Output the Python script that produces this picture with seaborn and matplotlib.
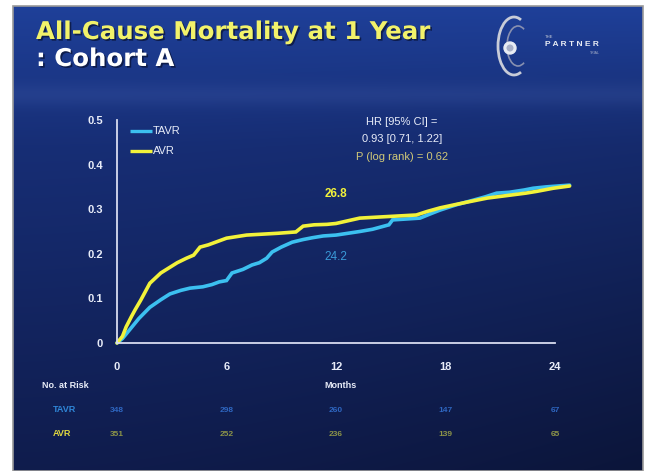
import numpy as np
import pandas as pd
import matplotlib
matplotlib.use("Agg")
import matplotlib.pyplot as plt
import matplotlib.patheffects as pe
import seaborn as sns
from matplotlib.patches import Rectangle, Circle, Arc

# Kaplan-Meier estimates of all-cause mortality (months, cumulative event rate)
tavr_months = [0, 0.3, 0.7, 1.2, 1.8, 2.4, 2.9, 3.5, 4.0, 4.7, 5.2, 5.6, 6.0, 6.3, 6.9,
               7.4, 7.8, 8.2, 8.5, 9.0, 9.6, 10.2, 10.7, 11.3, 12.0, 13.3, 14.0, 14.9,
               15.1, 16.6, 17.2, 17.7, 18.6, 19.5, 20.2, 20.8, 21.5, 22.3, 22.8, 23.5, 24.8]
tavr_rate = [0, 0.01, 0.03, 0.055, 0.08, 0.097, 0.11, 0.118, 0.123, 0.126, 0.131, 0.137,
             0.14, 0.157, 0.165, 0.175, 0.18, 0.19, 0.204, 0.215, 0.226, 0.232, 0.236,
             0.24, 0.242, 0.25, 0.255, 0.265, 0.276, 0.28, 0.29, 0.298, 0.31, 0.32, 0.328,
             0.336, 0.338, 0.343, 0.347, 0.35, 0.354]

avr_months = [0, 0.3, 0.5, 0.8, 1.0, 1.3, 1.8, 2.4, 3.3, 3.8, 4.2, 4.55, 5.0, 5.4, 6.0,
              7.1, 8.8, 9.8, 10.2, 10.8, 11.5, 12.0, 13.3, 14.6, 16.4, 17.0, 17.7, 18.5,
              19.2, 20.3, 22.4, 23.0, 23.9, 24.8]
avr_rate = [0, 0.015, 0.036, 0.06, 0.075, 0.096, 0.134, 0.157, 0.18, 0.19, 0.197, 0.215,
            0.22, 0.226, 0.235, 0.242, 0.246, 0.249, 0.262, 0.265, 0.266, 0.268, 0.28,
            0.283, 0.287, 0.295, 0.303, 0.31, 0.316, 0.325, 0.336, 0.34, 0.347, 0.352]

x_ticks = [0, 6, 12, 18, 24]
y_ticks = [0, 0.1, 0.2, 0.3, 0.4, 0.5]
y_tick_labels = ["0", "0.1", "0.2", "0.3", "0.4", "0.5"]

# number at risk at each x tick
risk_groups = ["TAVR", "AVR"]
risk_tavr = [348, 298, 260, 147, 67]
risk_avr = [351, 252, 236, 139, 65]

# one-year rates printed on the curves
label_month = 12
tavr_one_year = 24.2
avr_one_year = 26.8

TAVR_C = "#3cc0f0"
AVR_C = "#f2f23a"

df = pd.concat([
    pd.DataFrame({"Months": tavr_months, "Rate": tavr_rate, "Group": "TAVR"}),
    pd.DataFrame({"Months": avr_months, "Rate": avr_rate, "Group": "AVR"}),
])

sns.set_theme(style="dark")
plt.rcParams["font.family"] = ["Liberation Sans", "DejaVu Sans"]

W, H = 653, 471
fig = plt.figure(figsize=(W / 100, H / 100), dpi=100)
fig.patch.set_facecolor("white")

# slide background with blue gradient
bg = fig.add_axes([13 / W, 0, (643 - 13) / W, (471 - 6) / H])
bg.set_axis_off()
yy, xx = np.mgrid[0:1:200j, 0:1:300j]
top = np.array([0.12, 0.25, 0.60])
mid = np.array([0.09, 0.18, 0.46])
bot = np.array([0.06, 0.11, 0.30])
t = yy[..., None]
col = np.where(t < 0.3, top + (mid - top) * (t / 0.3), mid + (bot - mid) * ((t - 0.3) / 0.7))
col = col * (1 - 0.25 * (xx[..., None] ** 1.5) * t)
band = np.exp(-((yy - 0.19) / 0.025) ** 2)[..., None] * 0.04
col = np.clip(col + band, 0, 1)
bg.imshow(col, aspect="auto", extent=[0, 1, 1, 0], interpolation="bilinear")
bg.set_xlim(0, 1)
bg.set_ylim(1, 0)
bg.add_patch(Rectangle((0, 0), 1, 1, fill=False, edgecolor="#9a9a9a", lw=1.2,
                       transform=bg.transAxes, clip_on=False))

# main plot
ax = fig.add_axes([117 / W, (H - 343) / H, (555 - 117) / W, (343 - 120) / H])
ax.set_facecolor("none")
sns.lineplot(data=df, x="Months", y="Rate", hue="Group", hue_order=["TAVR", "AVR"],
             palette={"TAVR": TAVR_C, "AVR": AVR_C}, linewidth=2.6, estimator=None,
             sort=False, ax=ax, legend=False)
for ln in ax.lines:
    ln.set_clip_on(False)
    ln.set_solid_joinstyle("miter")
ax.set_xlim(0, 24)
ax.set_ylim(0, 0.5)
ax.set_xticks(x_ticks)
ax.set_xticklabels([str(v) for v in x_ticks])
ax.set_yticks(y_ticks)
ax.set_yticklabels(y_tick_labels)
ax.grid(False)
for s in ["top", "right"]:
    ax.spines[s].set_visible(False)
for s in ["left", "bottom"]:
    ax.spines[s].set_color("#d8dcf0")
    ax.spines[s].set_linewidth(1.3)
ax.tick_params(colors="#d8dcf0", labelcolor="#e8ecf8", labelsize=8, length=4, width=1.2,
               direction="out", pad=6)
ax.tick_params(axis="x", pad=10)
ax.set_xlabel("")
ax.set_ylabel("")
for lab in ax.get_xticklabels() + ax.get_yticklabels():
    lab.set_fontweight("bold")

# legend
for yv, name, c in [(0.476, "TAVR", TAVR_C), (0.431, "AVR", AVR_C)]:
    ax.plot([0.7, 1.9], [yv, yv], color=c, lw=2.4, solid_capstyle="butt")
    ax.text(1.95, yv, name, color="#e8ecf8", fontsize=8, va="center", ha="left")

# statistics
ax.text(15.6, 0.495, "HR [95% CI] =", color="#e8ecf8", fontsize=8, ha="center", va="center")
ax.text(15.6, 0.458, "0.93 [0.71, 1.22]", color="#e8ecf8", fontsize=8, ha="center", va="center")
ax.text(15.6, 0.418, "P (log rank) = 0.62", color="#d0c878", fontsize=8, ha="center", va="center")

ax.text(label_month, avr_one_year / 100 + 0.065, f"{avr_one_year}", color=AVR_C, fontsize=8.5,
        fontweight="bold", ha="center", va="center")
ax.text(label_month, tavr_one_year / 100 - 0.05, f"{tavr_one_year}", color="#3a9ad8",
        fontsize=8.5, ha="center", va="center")

# titles
shadow = [pe.SimplePatchShadow(offset=(1.2, -1.2), shadow_rgbFace="#081030", alpha=0.7),
          pe.Normal()]
fig.text(36 / W, 1 - 32 / H, "All-Cause Mortality at 1 Year", color="#f2f26a", fontsize=17.6,
         fontweight="bold", family=["DejaVu Sans"], ha="left", va="center",
         path_effects=shadow)
fig.text(36 / W, 1 - 59 / H, ": Cohort A", color="white", fontsize=17.6,
         fontweight="bold", family=["DejaVu Sans"], ha="left", va="center",
         path_effects=shadow)

# axis caption and number-at-risk table
fig.text(340 / W, 1 - 385 / H, "Months", color="#e8ecf8", fontsize=6.5, fontweight="bold",
         ha="center", va="center")
fig.text(42 / W, 1 - 385 / H, "No. at Risk", color="#e8ecf8", fontsize=6.5, fontweight="bold",
         ha="left", va="center")
fig.text(53 / W, 1 - 410 / H, risk_groups[0], color="#2f86d8", fontsize=6.5, fontweight="bold",
         ha="left", va="center")
fig.text(53 / W, 1 - 434 / H, risk_groups[1], color="#e0d840", fontsize=6.5, fontweight="bold",
         ha="left", va="center")
for m, a, b in zip(x_ticks, risk_tavr, risk_avr):
    ax.text(m, -(410 - 343) / 223, str(a), transform=ax.get_xaxis_transform(),
            color="#2e66c0", fontsize=6, fontweight="bold", ha="center", va="center")
    ax.text(m, -(434 - 343) / 223, str(b), transform=ax.get_xaxis_transform(),
            color="#8c9448", fontsize=6, fontweight="bold", ha="center", va="center")

# trial logo
lg = fig.add_axes([490 / W, 1 - 82 / H, 140 / W, 70 / H])
lg.set_axis_off()
lg.set_xlim(0, 140)
lg.set_ylim(70, 0)
lg.add_patch(Arc((24, 34), 32, 58, theta1=75, theta2=285, color="#c8ccd8", lw=2.0))
lg.add_patch(Arc((28, 34), 22, 40, theta1=70, theta2=290, color="#8890b0", lw=1.2))
lg.add_patch(Circle((20, 36), 6, color="#e8ecf4"))
lg.add_patch(Circle((20, 36), 2.8, color="#a8b0c8"))
lg.text(55, 25, "THE", color="#c8ccd8", fontsize=3, ha="left", va="center")
lg.text(55, 33, "P A R T N E R", color="#e8ecf4", fontsize=6, fontweight="bold",
        ha="left", va="center")
lg.text(110, 41, "TRIAL", color="#a8b0c8", fontsize=2.5, ha="right", va="center")

fig.savefig("out.png", dpi=100, facecolor=fig.get_facecolor())
